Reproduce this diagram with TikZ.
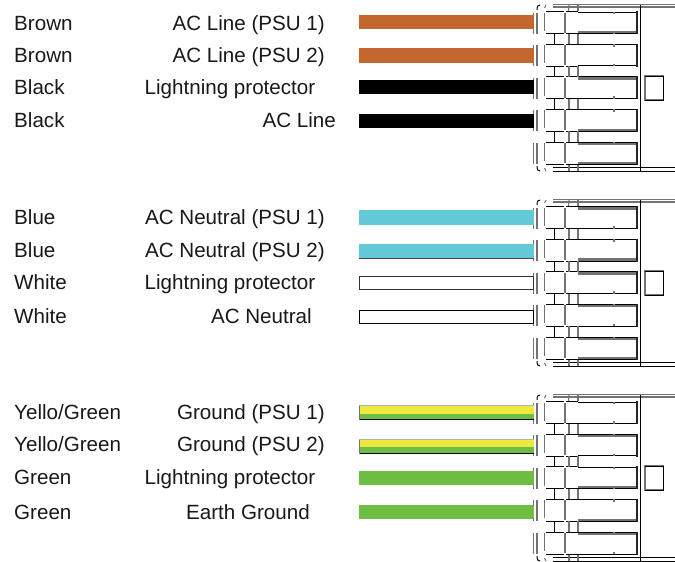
\documentclass[tikz,border=0pt]{standalone}
\usepackage{fontspec}
\setmainfont{Liberation Sans}
\definecolor{brownw}{HTML}{C4672F}
\definecolor{bluew}{HTML}{63C9D6}
\definecolor{greenw}{HTML}{6FBE44}
\definecolor{yelloww}{HTML}{EEE93F}
\definecolor{gr}{gray}{0.45}
\tikzset{
  lbl/.style={font=\fontsize{20.6}{24}\selectfont,inner sep=0pt,text=black!90},
  leftlbl/.style={lbl,anchor=base west},
  midlbl/.style={lbl,anchor=base east},
  wire/.style={inner sep=0pt,minimum width=175pt,anchor=north west},
  thin line/.style={line width=1pt,black},
  gray line/.style={line width=1.1pt,gr},
  heavy line/.style={line width=3pt,gr},
}
\newcommand{\slotline}[3]{%
  \ifnum#1=1
    \draw[heavy line] (578,#2+#3*1.3) -- (636,#2+#3*1.3);
    \draw[line width=0.6pt,black] (578,#2) -- (636,#2);
  \else
    \draw[thin line] (578,#2+#3*0.3) -- (636,#2+#3*0.3);
  \fi}
% #1 y offset, #2..#6 top/bottom style of the five slots
\newcommand{\connector}[6]{%
\begin{scope}[yshift=-#1pt]
  \draw[gray line] (553,4.6) -- (675,4.6);
  \draw[gray line] (553,7) -- (675,7);
  \draw[thin line] (553,167) -- (675,167);
  \draw[thin line] (553,171) -- (675,171);
  \draw[thin line] (640,5) -- (640,171);
  \draw[gray line] (645,76) rectangle (663.5,100);
  \draw[thin line] (645,76) -- (663.5,76) -- (663.5,100) -- (645,100);
  \draw[thin line] (537,10) .. controls (537,6) and (538,5) .. (540,5);
  \draw[gray line] (544.5,8) -- (546,5);
  \draw[gray line] (569,5) -- (568.5,11);
  \draw[gray line] (578,5) -- (578,11);
  \draw[gray line] (569,165) -- (569,171);
  \draw[gray line] (578,165) -- (578,171);
  \draw[thin line] (537,166) .. controls (537,170) and (538,171) .. (540,171);
  \draw[gray line] (544.5,168) -- (546,171);
  \foreach \t/\u/\d in {11.7/#2,44/#3,76.7/#4,109.3/#5,142.3/#6}{
    \pgfmathsetmacro{\b}{\t+22}
    \draw[gray line] (533.3,\t+1) -- (533.3,\b);
    \draw[gray line] (537,\t+1) -- (537,\b);
    \draw[gray line] (544.5,\t+1) -- (544.5,\b-3);
    \draw[gray line] (565,\t+1) -- (565,\b-1);
    \draw[thin line] (546,\t) -- (564,\t);
    \draw[thin line] (546,\b) -- (564,\b);
    \draw[thin line] (566,\t) -- (578,\t);
    \draw[thin line] (566,\b) -- (578,\b);
    \slotline{\u}{\t}{1}
    \slotline{\d}{\b}{-1}
    \draw[line width=2pt,black!85] (636.5,\t-0.5) -- (636.5,\b+0.5);
    \draw[gray line] (614,\t) -- (614,\t+2.5);
    \draw[gray line] (614,\b-2.5) -- (614,\b);
  }
  \foreach \t in {33.7,66,98.7,131.3}{
    \pgfmathsetmacro{\b}{\t+10.5}
    \draw[thin line] (554,\t) -- (554,\b);
    \draw[gray line] (569,\t) -- (569,\b);
    \draw[gray line] (578,\t) -- (578,\b);
  }
\end{scope}}
\newcommand{\twotone}[3]{%
  \node[wire,fill=yelloww,minimum height=7.8pt] (#1) at (359,#2) {};
  \node[wire,fill=greenw,minimum height=6pt] (#1b) at (359,#3) {};
  \draw[line width=1pt,black] (#1b.south west) -- (#1b.south east);
  \draw[line width=1pt,gr] (#1.north west) -- (#1b.south west);
  \draw[line width=0.7pt,black!30] (#1.north west) -- (#1.north east);
}
\begin{document}
\begin{tikzpicture}[x=1pt,y=-1pt,line cap=butt]
\useasboundingbox (0,0) rectangle (675,562);
\fill[white] (0,0) rectangle (675,562);
\connector{0}{0/1}{0/0}{1/0}{0/1}{1/1}
\connector{195}{1/0}{0/1}{1/0}{1/0}{1/1}
\connector{390}{0/0}{1/0}{0/1}{0/1}{1/0}
% wires group 1
\node[wire,fill=brownw,minimum height=14pt] (w1) at (359,15) {};
\node[wire,fill=brownw,minimum height=15pt] (w2) at (359,48) {};
\node[wire,fill=black,minimum height=14pt] (w3) at (359,80) {};
\node[wire,fill=black,minimum height=14pt] (w4) at (359,114) {};
% wires group 2
\node[wire,fill=bluew,minimum height=15pt] (w5) at (359,210) {};
\node[wire,fill=bluew,minimum height=14pt] (w6) at (359,244) {};
\draw[line width=0.8pt,black!70] (w6.south west) -- (w6.south east);
\node[wire,draw=black!80,fill=white,line width=1pt,minimum height=13pt,minimum width=174pt] (w7) at (359,276) {};
\node[wire,draw=black,fill=white,line width=1pt,minimum height=13pt,minimum width=174pt] (w8) at (359,310) {};
% wires group 3
\twotone{w9}{405.5}{413.3}
\twotone{w10}{439.3}{447.1}
\node[wire,fill=greenw,minimum height=14pt] (w11) at (359,471) {};
\node[wire,fill=greenw,minimum height=14pt] (w12) at (359,505) {};
% labels
\foreach \nm/\c/\y in {a/Brown/30,b/Brown/62,c/Black/94,d/Black/127,e/Blue/224,f/Blue/257,g/White/289,h/White/323,i/Yello\slash Green/419,j/Yello\slash Green/451,k/Green/484,l/Green/519}{
  \node[leftlbl] (col\nm) at (14,\y) {\c};
}
\foreach \nm/\c/\x/\y in {a/AC Line (PSU 1)/325/30,b/AC Line (PSU 2)/325/62,c/Lightning protector/315.5/94,d/AC Line/336/127,
 e/AC Neutral (PSU 1)/325/224,f/AC Neutral (PSU 2)/325/257,g/Lightning protector/315.5/289,h/AC Neutral/312/323,
 i/Ground (PSU 1)/325/419,j/Ground (PSU 2)/325/451,k/Lightning protector/315.5/484,l/Earth Ground/310/519}{
  \node[midlbl] (fn\nm) at (\x,\y) {\c};
}
\end{tikzpicture}
\end{document}
